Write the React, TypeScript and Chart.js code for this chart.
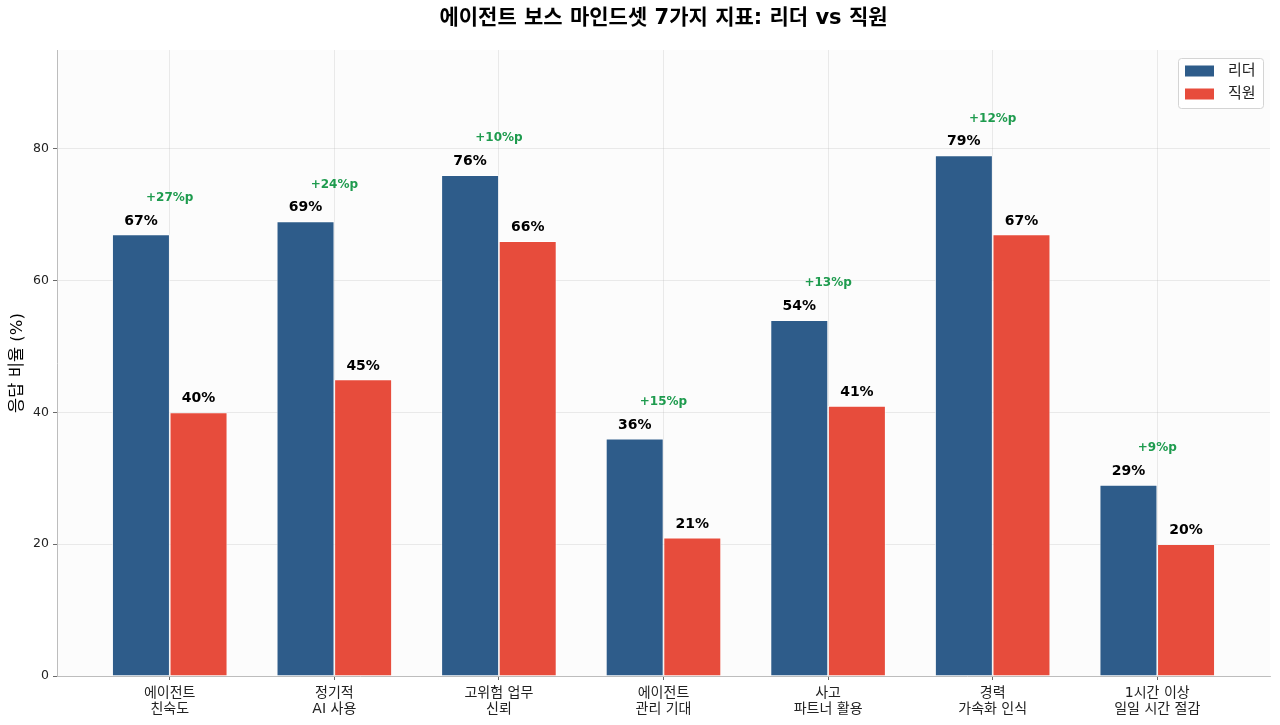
import { useEffect, useRef } from 'react';
import { Chart, registerables, type ChartConfiguration, type Plugin } from 'chart.js';

Chart.register(...registerables);

const FONT = '"DejaVu Sans", "Noto Sans CJK KR", sans-serif';

const TITLE = '에이전트 보스 마인드셋 7가지 지표: 리더 vs 직원';
const CATEGORIES: string[][] = [
  ['에이전트', '친숙도'],
  ['정기적', 'AI 사용'],
  ['고위험 업무', '신뢰'],
  ['에이전트', '관리 기대'],
  ['사고', '파트너 활용'],
  ['경력', '가속화 인식'],
  ['1시간 이상', '일일 시간 절감'],
];
const LEADER = [67, 69, 76, 36, 54, 79, 29];
const EMPLOYEE = [40, 45, 66, 21, 41, 67, 20];
const Y_TICKS = [0, 20, 40, 60, 80];
const SERIES_NAMES = ['리더', '직원'];

const NAVY = '#2E5C8A';
const RED = '#E74C3C';
const GREEN = '#1E9B4E';
const GRID = 'rgba(176,176,176,0.3)';

// faint panel behind the plot
const panelPlugin: Plugin<'bar'> = {
  id: 'panel',
  beforeDraw(chart) {
    const { ctx, chartArea: a } = chart;
    ctx.save();
    ctx.fillStyle = '#FCFCFC';
    ctx.fillRect(a.left, a.top, a.right - a.left, a.bottom - a.top);
    ctx.restore();
  },
};

const labelsPlugin: Plugin<'bar'> = {
  id: 'barLabels',
  afterDatasetsDraw(chart) {
    const { ctx, scales, chartArea } = chart;
    const y = scales.y;
    const x = scales.x;
    const series = [LEADER, EMPLOYEE];
    ctx.save();

    // title centred over the plot area, like matplotlib
    ctx.textAlign = 'center';
    ctx.textBaseline = 'middle';
    ctx.fillStyle = '#000';
    ctx.font = `bold 21px ${FONT}`;
    ctx.fillText(TITLE, (chartArea.left + chartArea.right) / 2, 19);

    ctx.font = `bold 14px ${FONT}`;
    ctx.textBaseline = 'bottom';
    series.forEach((vals, d) => {
      const meta = chart.getDatasetMeta(d);
      vals.forEach((v, i) => {
        ctx.fillText(`${v}%`, meta.data[i].x, y.getPixelForValue(v + 1));
      });
    });
    ctx.fillStyle = GREEN;
    ctx.font = `bold 12px ${FONT}`;
    ctx.textBaseline = 'middle';
    LEADER.forEach((v, i) => {
      const top = Math.max(v, EMPLOYEE[i]);
      ctx.fillText(`+${v - EMPLOYEE[i]}%p`, x.getPixelForValue(i), y.getPixelForValue(top + 5.6));
    });

    // legend box, top-right inside the plot
    const bx = chartArea.right - 92;
    const by = chartArea.top + 8;
    ctx.beginPath();
    ctx.roundRect(bx + 0.5, by + 0.5, 85, 50, 3);
    ctx.fillStyle = 'rgba(255,255,255,0.8)';
    ctx.fill();
    ctx.strokeStyle = '#d4d4d4';
    ctx.lineWidth = 1;
    ctx.stroke();
    ctx.font = `15px ${FONT}`;
    ctx.textAlign = 'left';
    [NAVY, RED].forEach((c, k) => {
      const cy = by + 13 + k * 23;
      ctx.fillStyle = c;
      ctx.fillRect(bx + 7, cy - 5.5, 29, 11);
      ctx.fillStyle = '#222';
      ctx.fillText(SERIES_NAMES[k], bx + 50, cy);
    });
    ctx.restore();
  },
};

export default function App() {
  const canvasRef = useRef<HTMLCanvasElement>(null);
  const chartRef = useRef<Chart | null>(null);

  useEffect(() => {
    if (!canvasRef.current) return;

    const config: ChartConfiguration<'bar'> = {
      type: 'bar',
      data: {
        datasets: [
          {
            label: SERIES_NAMES[0],
            data: LEADER.map((v, i) => ({ x: i, y: v })) as any,
            backgroundColor: NAVY,
            borderColor: '#fff',
            borderWidth: 0.8,
            categoryPercentage: 0.7,
            barPercentage: 1,
          },
          {
            label: SERIES_NAMES[1],
            data: EMPLOYEE.map((v, i) => ({ x: i, y: v })) as any,
            backgroundColor: RED,
            borderColor: '#fff',
            borderWidth: 0.8,
            categoryPercentage: 0.7,
            barPercentage: 1,
          },
        ],
      },
      options: {
        responsive: true,
        maintainAspectRatio: false,
        animation: false,
        layout: { padding: { left: 0, right: 10, top: 50, bottom: 0 } },
        plugins: {
          legend: { display: false },
          tooltip: { enabled: false },
          title: { display: false },
        },
        scales: {
          x: {
            type: 'linear',
            min: -0.685,
            max: 6.685,
            offset: false,
            z: 1,
            afterBuildTicks: (axis) => {
              axis.ticks = CATEGORIES.map((_, i) => ({ value: i }));
            },
            afterFit: (axis) => {
              axis.height = 49;
            },
            grid: { color: GRID, lineWidth: 0.8, offset: false, tickColor: '#444', tickLength: 4 },
            border: { color: '#bdbdbd', width: 1 },
            ticks: {
              autoSkip: false,
              maxRotation: 0,
              padding: 5,
              color: '#222',
              font: { family: FONT, size: 14, lineHeight: 1.15 },
              callback: (v) => CATEGORIES[Number(v)] ?? '',
            },
          },
          y: {
            min: 0,
            max: 95,
            z: 1,
            afterBuildTicks: (axis) => {
              axis.ticks = Y_TICKS.map((v) => ({ value: v }));
            },
            afterFit: (axis) => {
              axis.width = 57;
            },
            grid: { color: GRID, lineWidth: 0.8, tickColor: '#444', tickLength: 4 },
            border: { color: '#bdbdbd', width: 1 },
            ticks: {
              padding: 4,
              color: '#222',
              font: { family: FONT, size: 12.5 },
            },
            title: {
              display: true,
              text: '응답 비율 (%)',
              color: '#000',
              font: { family: FONT, size: 16.5 },
              padding: { top: 8, bottom: 2 },
            },
          },
        },
      },
      plugins: [panelPlugin, labelsPlugin],
    };

    chartRef.current = new Chart(canvasRef.current, config);
    return () => { chartRef.current?.destroy(); chartRef.current = null; };
  }, []);

  return (
    <div style={{ position: 'fixed', left: 0, top: 0, width: 1280, height: 725, background: '#fff' }}>
      <canvas ref={canvasRef} aria-label={TITLE} role="img" />
    </div>
  );
}
